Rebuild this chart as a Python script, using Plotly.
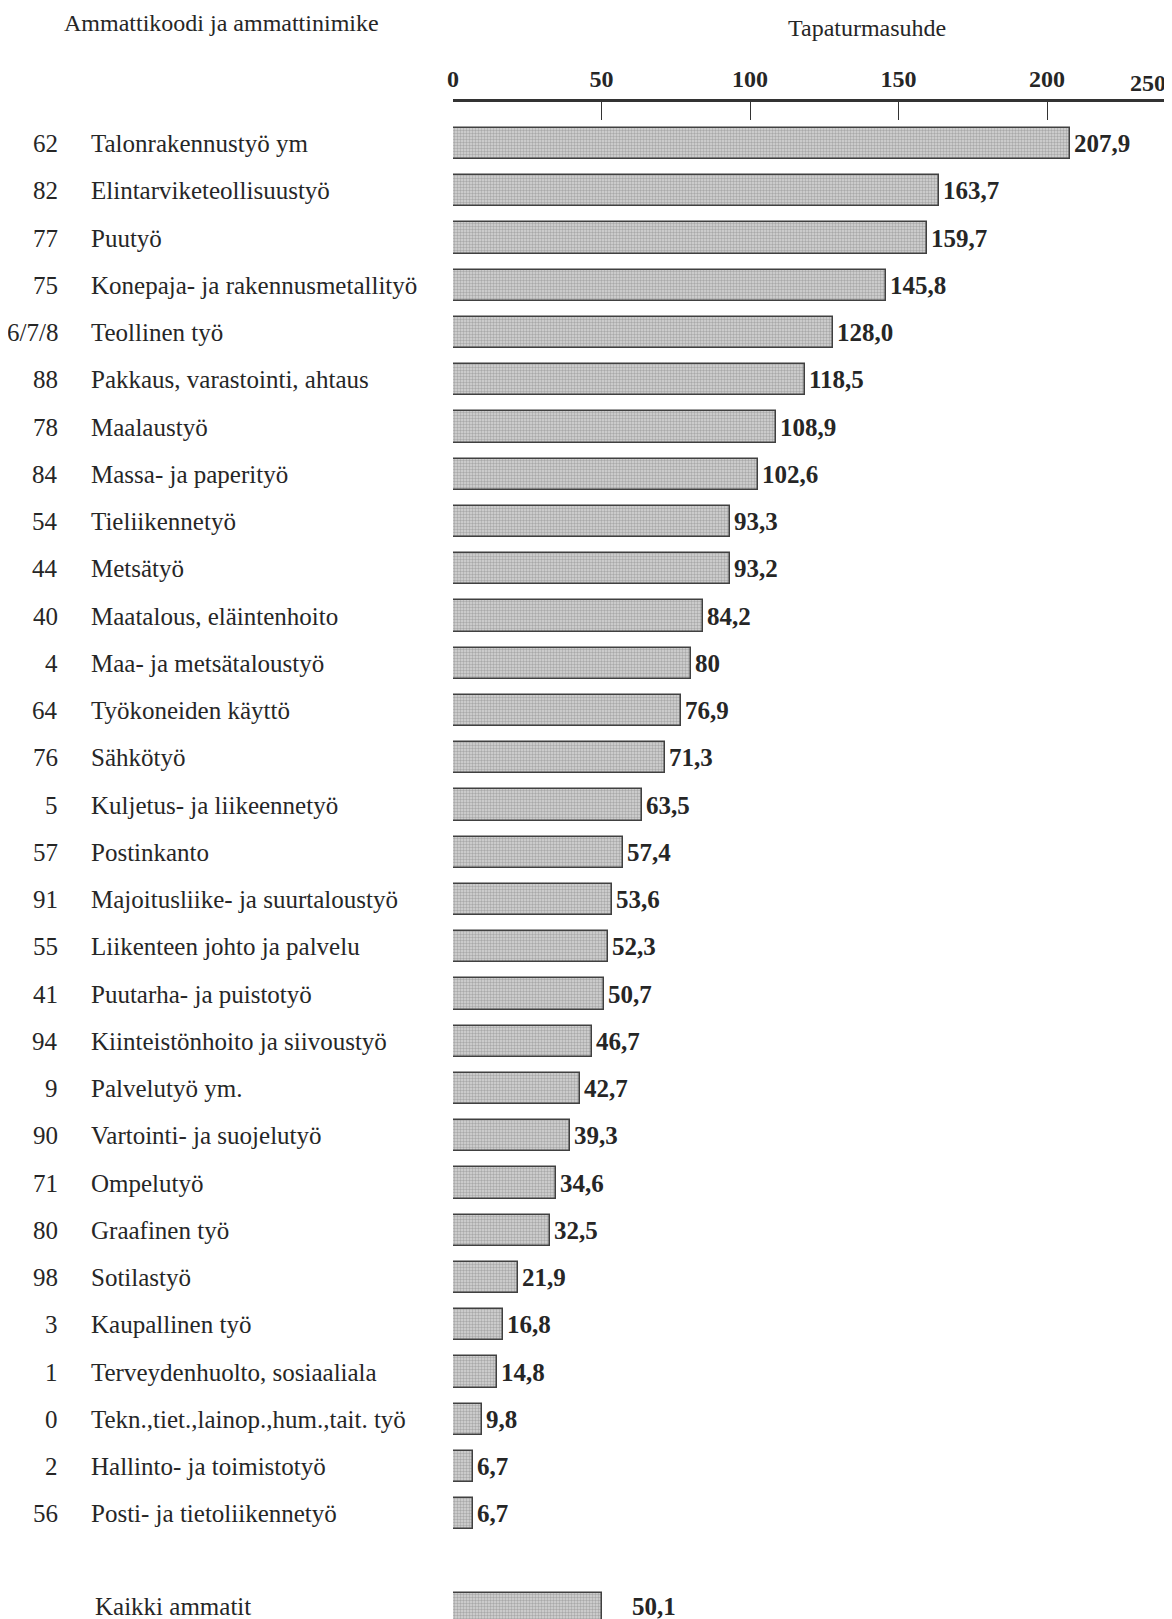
import plotly.graph_objects as go

codes = ["62", "82", "77", "75", "6/7/8", "88", "78", "84", "54", "44", "40", "4", "64", "76", "5",
         "57", "91", "55", "41", "94", "9", "90", "71", "80", "98", "3", "1", "0", "2", "56"]
names = ["Talonrakennustyö ym", "Elintarviketeollisuustyö", "Puutyö", "Konepaja- ja rakennusmetallityö",
         "Teollinen työ", "Pakkaus, varastointi, ahtaus", "Maalaustyö", "Massa- ja paperityö",
         "Tieliikennetyö", "Metsätyö", "Maatalous, eläintenhoito", "Maa- ja metsätaloustyö",
         "Työkoneiden käyttö", "Sähkötyö", "Kuljetus- ja liikeennetyö", "Postinkanto",
         "Majoitusliike- ja suurtaloustyö", "Liikenteen johto ja palvelu", "Puutarha- ja puistotyö",
         "Kiinteistönhoito ja siivoustyö", "Palvelutyö ym.", "Vartointi- ja suojelutyö", "Ompelutyö",
         "Graafinen työ", "Sotilastyö", "Kaupallinen työ", "Terveydenhuolto, sosiaaliala",
         "Tekn.,tiet.,lainop.,hum.,tait. työ", "Hallinto- ja toimistotyö", "Posti- ja tietoliikennetyö"]
values = [207.9, 163.7, 159.7, 145.8, 128.0, 118.5, 108.9, 102.6, 93.3, 93.2, 84.2, 80, 76.9, 71.3, 63.5,
          57.4, 53.6, 52.3, 50.7, 46.7, 42.7, 39.3, 34.6, 32.5, 21.9, 16.8, 14.8, 9.8, 6.7, 6.7]
value_labels = ["207,9", "163,7", "159,7", "145,8", "128,0", "118,5", "108,9", "102,6", "93,3", "93,2",
                "84,2", "80", "76,9", "71,3", "63,5", "57,4", "53,6", "52,3", "50,7", "46,7", "42,7",
                "39,3", "34,6", "32,5", "21,9", "16,8", "14,8", "9,8", "6,7", "6,7"]
total_name = "Kaikki ammatit"
total_value = 50.1
total_label = "50,1"
tick_vals = [0, 50, 100, 150, 200]
tick_text = ["0", "50", "100", "150", "200"]
extra_tick = "250"
left_header = "Ammattikoodi ja ammattinimike"
right_header = "Tapaturmasuhde"

OFF = 8  # page body margin
W, H = 1172 - OFF, 1619 - OFF
ML, MR, MT, MB = 453 - OFF, 0, 102 - OFF, 0
PW, PH = W - ML - MR, H - MT - MB
PX_PER_UNIT = 2.97
SLOT = 47.25
FIRST = 143.5 - OFF

positions = list(range(len(values)))
total_pos = len(values) + 1

def px_to_xpaper(px):
    return (px - OFF - ML) / PW

def px_to_ypaper(py):
    return (H - MB - (py - OFF)) / PH

serif = "Liberation Serif, Times New Roman, serif"
ink = "#262626"
bar_style = dict(
    color="#c4c4c4",
    line=dict(color="#404040", width=1.5),
    pattern=dict(shape=".", fgcolor="#7c7c7c", bgcolor="#d6d6d6", size=3, solidity=0.5),
)

fig = go.Figure()
fig.add_trace(go.Bar(
    x=values + [total_value], y=positions + [total_pos], orientation="h",
    width=0.66, marker=bar_style, hoverinfo="skip", showlegend=False,
))

ann = []
for i, (c, n, v, lab) in enumerate(zip(codes, names, values, value_labels)):
    ann.append(dict(x=px_to_xpaper(60), xref="paper", y=i, yref="y", text=c, showarrow=False,
                    xanchor="right", yanchor="middle", font=dict(family=serif, size=25, color=ink)))
    ann.append(dict(x=px_to_xpaper(89), xref="paper", y=i, yref="y", text=n, showarrow=False,
                    xanchor="left", yanchor="middle", font=dict(family=serif, size=25, color=ink)))
    ann.append(dict(x=v, xref="x", y=i, yref="y", text="<b>%s</b>" % lab, showarrow=False,
                    xanchor="left", yanchor="middle", xshift=2,
                    font=dict(family=serif, size=25, color=ink)))
ann.append(dict(x=px_to_xpaper(93), xref="paper", y=total_pos, yref="y", text=total_name, showarrow=False,
                xanchor="left", yanchor="middle", yshift=2, font=dict(family=serif, size=25, color=ink)))
ann.append(dict(x=total_value, xref="x", y=total_pos, yref="y", text="<b>%s</b>" % total_label,
                showarrow=False, xanchor="left", yanchor="middle", xshift=28, yshift=2,
                font=dict(family=serif, size=25, color=ink)))
ann.append(dict(x=px_to_xpaper(62), xref="paper", y=px_to_ypaper(23), yref="paper", text=left_header,
                showarrow=False, xanchor="left", yanchor="middle", font=dict(family=serif, size=24, color=ink)))
ann.append(dict(x=px_to_xpaper(867), xref="paper", y=px_to_ypaper(28), yref="paper", text=right_header,
                showarrow=False, xanchor="center", yanchor="middle", font=dict(family=serif, size=24, color=ink)))
ann.append(dict(x=px_to_xpaper(1148), xref="paper", y=px_to_ypaper(83), yref="paper",
                text="<b>%s</b>" % extra_tick, showarrow=False, xanchor="center", yanchor="middle",
                font=dict(family=serif, size=24, color=ink)))

y_top = -(FIRST - MT) / SLOT
y_bot = (H - MB - FIRST) / SLOT

fig.update_layout(
    width=W, height=H, margin=dict(l=ML, r=MR, t=MT, b=MB),
    paper_bgcolor="white", plot_bgcolor="white",
    annotations=ann, bargap=0,
    xaxis=dict(range=[0, PW / PX_PER_UNIT], side="top", showgrid=False, zeroline=False,
               showline=True, linewidth=2.5, linecolor="#333",
               ticks="inside", ticklen=18, tickwidth=1, tickcolor="#333",
               tickvals=tick_vals, ticktext=["<b>%s</b>" % t for t in tick_text],
               tickfont=dict(family=serif, size=24, color=ink), ticklabelstandoff=3),
    yaxis=dict(range=[y_bot, y_top], visible=False, showgrid=False, zeroline=False),
)

fig.write_html("out.html")
